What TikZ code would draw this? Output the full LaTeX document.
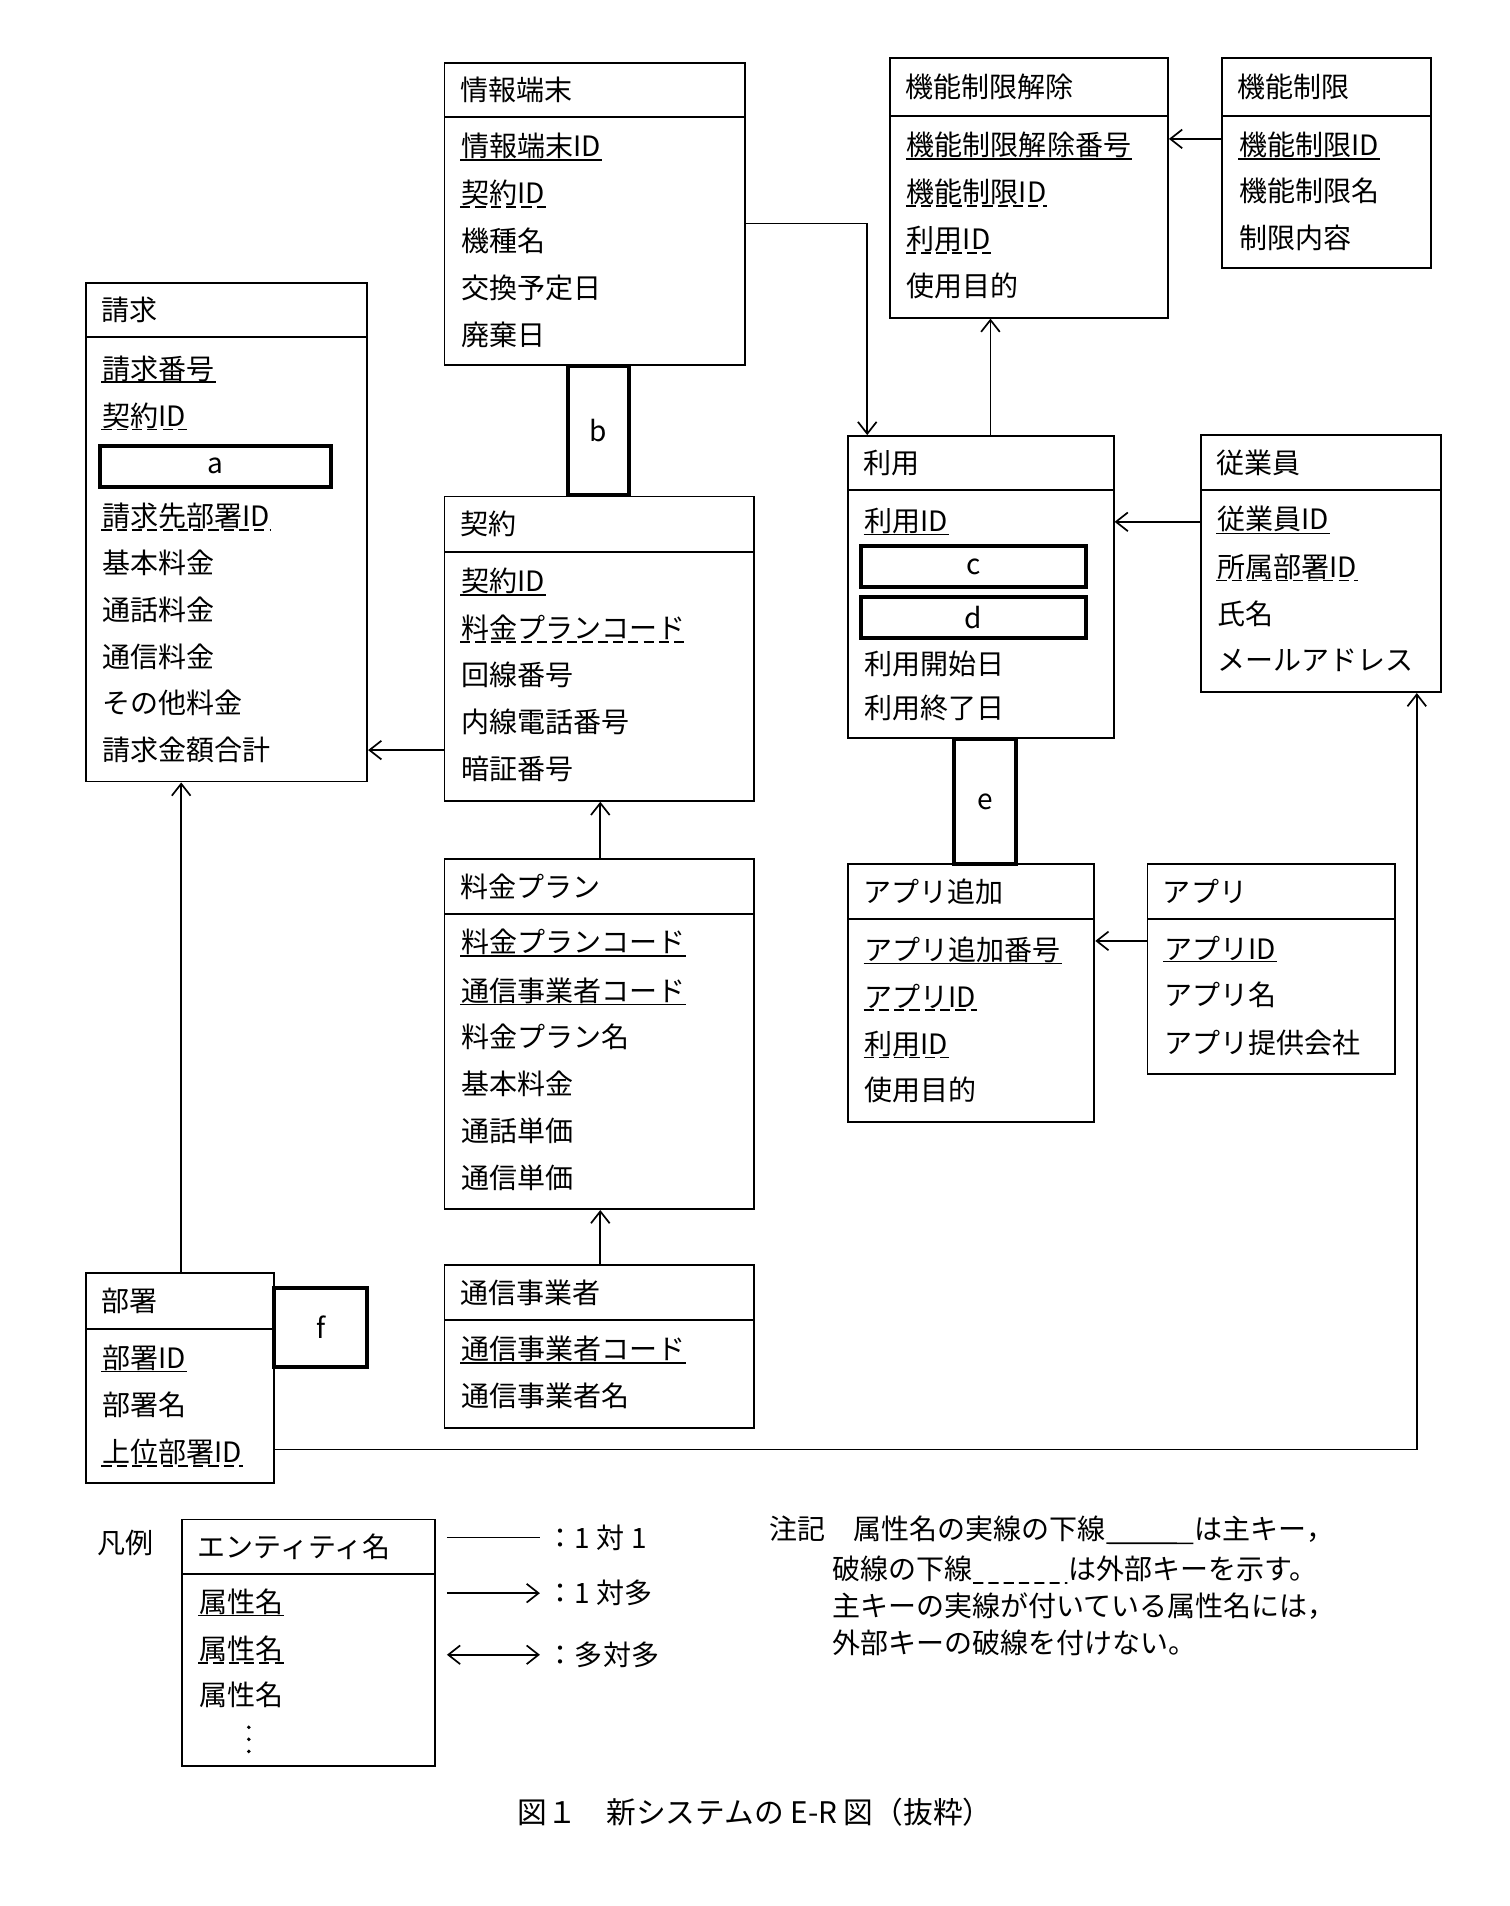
\documentclass[tikz,border=0pt]{standalone}
\usepackage{fontspec}
\setmainfont{Noto Sans CJK JP}
\usetikzlibrary{fit,arrows.meta}
\tikzset{
  box/.style={draw, line width=2.2pt, inner sep=0pt},
  blank/.style={draw, line width=4.5pt, inner sep=0pt},
  attr/.style={anchor=west, inner sep=1pt, font=\fontsize{33}{38}\selectfont},
  pk/.style={line width=2pt},
  fk/.style={line width=2pt, dash pattern=on 12pt off 6pt},
  many/.style={line width=2.2pt, -{Straight Barb[length=14pt,width=22pt,line width=2pt]}},
  both/.style={line width=2.2pt, {Straight Barb[length=14pt,width=22pt,line width=2pt]}-{Straight Barb[length=14pt,width=22pt,line width=2pt]}}
}
% entity: name, x1, y1, x2, y2, header line y, title
\newcommand{\entity}[7]{%
  \node[box, fit={(#2,#3)(#4,#5)}] (#1) {};
  \draw[line width=2.2pt] (#2,#6) -- (#4,#6);
  \node[attr] (#1-t) at (#2+12,{(#3+#6)/2}) {#7};
}
% attribute rows: name, x, y, text
\newcommand{\att}[4]{\node[attr] (#1) at (#2,#3) {#4};}
\newcommand{\attpk}[4]{\node[attr] (#1) at (#2,#3) {#4};
  \draw[pk] (#1.south west) -- (#1.south east);}
\newcommand{\attfk}[4]{\node[attr] (#1) at (#2,#3) {#4};
  \draw[fk] (#1.south west) -- (#1.south east);}
\begin{document}
\begin{tikzpicture}[x=0.05cm, y=-0.05cm]
\useasboundingbox (0,0) rectangle (1250,1578);

% 情報端末
\entity{joho}{368}{52}{617}{302}{97}{情報端末}
\attpk{joho1}{381}{121}{情報端末ID}
\attfk{joho2}{381}{160}{契約ID}
\att{joho3}{381}{199}{機種名}
\att{joho4}{381}{238}{交換予定日}
\att{joho5}{381}{277}{廃棄日}

% 機能制限解除
\entity{kaijo}{737}{48}{967}{263}{96}{機能制限解除}
\attpk{kaijo1}{750}{120}{機能制限解除番号}
\attfk{kaijo2}{750}{159}{機能制限ID}
\attfk{kaijo3}{750}{198}{利用ID}
\att{kaijo4}{750}{237}{使用目的}

% 機能制限
\entity{seigen}{1012}{48}{1185}{222}{96}{機能制限}
\attpk{seigen1}{1025}{120}{機能制限ID}
\att{seigen2}{1025}{158}{機能制限名}
\att{seigen3}{1025}{197}{制限内容}

% 請求
\entity{seikyu}{71}{234}{304}{647}{279}{請求}
\attpk{seikyu1}{84}{305}{請求番号}
\attfk{seikyu2}{84}{344}{契約ID}
\node[blank, minimum width=9.55cm, minimum height=1.7cm] (blanka) at (178.5,386) {};
\node[attr, anchor=center] at (blanka) {a};
\attfk{seikyu3}{84}{427}{請求先部署ID}
\att{seikyu4}{84}{466}{基本料金}
\att{seikyu5}{84}{505}{通話料金}
\att{seikyu6}{84}{544}{通信料金}
\att{seikyu7}{84}{582}{その他料金}
\att{seikyu8}{84}{621}{請求金額合計}

% 契約
\entity{keiyaku}{368}{411}{624}{663}{457}{契約}
\attpk{keiyaku1}{381}{481}{契約ID}
\attfk{keiyaku2}{381}{520}{料金プランコード}
\att{keiyaku3}{381}{559}{回線番号}
\att{keiyaku4}{381}{598}{内線電話番号}
\att{keiyaku5}{381}{637}{暗証番号}

\node[blank, minimum width=2.55cm, minimum height=5.35cm] (blankb) at (495.5,356.5) {};
\node[attr, anchor=center] at (blankb) {b};

% 利用
\entity{riyo}{702}{361}{922}{611}{406}{利用}
\attpk{riyo1}{715}{431}{利用ID}
\node[blank, minimum width=9.3cm, minimum height=1.7cm] (blankc) at (806,469) {};
\node[attr, anchor=center] at (blankc) {c};
\node[blank, minimum width=9.3cm, minimum height=1.7cm] (blankd) at (806,511) {};
\node[attr, anchor=center] at (blankd) {d};
\att{riyo2}{715}{550}{利用開始日}
\att{riyo3}{715}{586}{利用終了日}

% 従業員
\entity{jugyo}{994}{360}{1193}{573}{406}{従業員}
\attpk{jugyo1}{1007}{430}{従業員ID}
\attfk{jugyo2}{1007}{469}{所属部署ID}
\att{jugyo3}{1007}{508}{氏名}
\att{jugyo4}{1007}{547}{メールアドレス}

\node[blank, minimum width=2.55cm, minimum height=5.15cm] (blanke) at (815.5,663.5) {};
\node[attr, anchor=center] at (blanke) {e};

% アプリ追加
\entity{tsuika}{702}{715}{906}{929}{761}{アプリ追加}
\attpk{tsuika1}{715}{786}{アプリ追加番号}
\attfk{tsuika2}{715}{825}{アプリID}
\attfk{tsuika3}{715}{864}{利用ID}
\att{tsuika4}{715}{902}{使用目的}

% アプリ
\entity{apuri}{950}{715}{1155}{889}{761}{アプリ}
\attpk{apuri1}{963}{785}{アプリID}
\att{apuri2}{963}{824}{アプリ名}
\att{apuri3}{963}{863}{アプリ提供会社}

% 料金プラン
\entity{plan}{368}{711}{624}{1001}{757}{料金プラン}
\attpk{plan1}{381}{780}{料金プランコード}
\attpk{plan2}{381}{820}{通信事業者コード}
\att{plan3}{381}{858}{料金プラン名}
\att{plan4}{381}{897}{基本料金}
\att{plan5}{381}{936}{通話単価}
\att{plan6}{381}{975}{通信単価}

% 通信事業者
\entity{jigyo}{368}{1047}{624}{1182}{1093}{通信事業者}
\attpk{jigyo1}{381}{1117}{通信事業者コード}
\att{jigyo2}{381}{1156}{通信事業者名}

% 部署
\entity{busho}{71}{1054}{227}{1228}{1100}{部署}
\attpk{busho1}{84}{1124}{部署ID}
\att{busho2}{84}{1163}{部署名}
\attfk{busho3}{84}{1202}{上位部署ID}
\node[blank, minimum width=3.85cm, minimum height=3.3cm] (blankf) at (265.5,1099) {};
\node[attr, anchor=center] at (blankf) {f};

% relationships
\draw[many] (joho.east |- 0,185) -| (riyo.north -| 718,0);
\draw[many] (riyo.north -| 820,0) -- (kaijo.south -| 820,0);
\draw[many] (seigen.west |- 0,115) -- (kaijo.east |- 0,115);
\draw[many] (jugyo.west |- 0,432) -- (riyo.east |- 0,432);
\draw[many] (keiyaku.west |- 0,621) -- (seikyu.east |- 0,621);
\draw[many] (plan.north -| 497,0) -- (keiyaku.south -| 497,0);
\draw[many] (jigyo.north -| 497,0) -- (plan.south -| 497,0);
\draw[many] (busho.north -| 150,0) -- (seikyu.south -| 150,0);
\draw[many] (busho.east |- 0,1200) -| (jugyo.south -| 1173,0);
\draw[many] (apuri.west |- 0,779) -- (tsuika.east |- 0,779);

% legend
\node[attr] (hanrei) at (80,1277) {凡例};
\entity{legend}{151}{1258}{360}{1462}{1303}{エンティティ名}
\attpk{legend1}{164}{1326}{属性名}
\attfk{legend2}{164}{1365}{属性名}
\att{legend3}{164}{1403}{属性名}
\foreach \dy in {1430,1440,1450} \fill (206,\dy) circle (1.6);
\coordinate (l1a) at (370,1273); \coordinate (l1b) at (447,1273);
\coordinate (l2a) at (370,1319); \coordinate (l2b) at (447,1319);
\coordinate (l3a) at (370,1370); \coordinate (l3b) at (447,1370);
\draw[line width=2pt] (l1a) -- (l1b);
\draw[many] (l2a) -- (l2b);
\draw[both] (l3a) -- (l3b);
\node[attr] (k1) at (452,1273) {：1 対 1};
\node[attr] (k2) at (452,1319) {：1 対多};
\node[attr] (k3) at (452,1370) {：多対多};

% note
\node[attr] (note1) at (636,1266) {注記　属性名の実線の下線};
\node[attr] (note1b) at ([xshift=3.6cm]note1.east) {は主キー，};
\draw[pk] (note1.south east) -- (note1b.south west);
\node[attr] (note2) at (688,1299) {破線の下線};
\node[attr] (note2b) at ([xshift=3.9cm]note2.east) {は外部キーを示す。};
\draw[fk] (note2.south east) -- (note2b.south west);
\node[attr] (note3) at (688,1330) {主キーの実線が付いている属性名には，};
\node[attr] (note4) at (688,1360) {外部キーの破線を付けない。};

\node[font=\fontsize{35}{40}\selectfont] (caption) at (625,1500) {図１　新システムの E-R 図（抜粋）};
\end{tikzpicture}
\end{document}
